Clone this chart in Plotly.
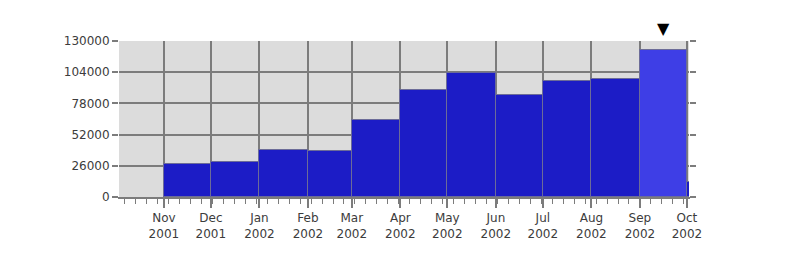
import plotly.graph_objects as go
import pandas as pd

# ---- data ----
months = ["2001-11-01", "2001-12-01", "2002-01-01", "2002-02-01", "2002-03-01",
          "2002-04-01", "2002-05-01", "2002-06-01", "2002-07-01", "2002-08-01",
          "2002-09-01", "2002-10-01"]
values = [27400, 28900, 39100, 38200, 64000, 88900, 103500, 85100, 96500, 98000,
          122800, 12500]
tick_labels = ["Nov<br>2001", "Dec<br>2001", "Jan<br>2002", "Feb<br>2002", "Mar<br>2002",
               "Apr<br>2002", "May<br>2002", "Jun<br>2002", "Jul<br>2002", "Aug<br>2002",
               "Sep<br>2002", "Oct<br>2002"]
y_ticks = [0, 26000, 52000, 78000, 104000, 130000]
highlight_month = "2002-09-01"

# ---- styling ----
BAR = "#1c1cc6"
BAR_HI = "#3e3ee6"
BG = "#dcdcdc"
GRID = "#7c7c7c"
TEXT = "#3c3c3c"
FONT = "DejaVu Sans"

starts = pd.to_datetime(months)
ends = starts + pd.offsets.MonthBegin(1)
widths = [float((e - s) / pd.Timedelta(milliseconds=1)) for s, e in zip(starts, ends)]
colors = [BAR_HI if m == highlight_month else BAR for m in months]

hi_idx = months.index(highlight_month)
hi_mid = (starts[hi_idx] + (ends[hi_idx] - starts[hi_idx]) / 2).strftime("%Y-%m-%d %H:%M")

fig = go.Figure()
fig.add_trace(go.Bar(
    x=[s.strftime("%Y-%m-%d") for s in starts], y=values, width=widths, offset=0,
    marker=dict(color=colors, line=dict(color="#6c6c98", width=1)),
    showlegend=False, hoverinfo="x+y",
))

# marker above the highlighted month
fig.add_annotation(
    x=hi_mid, xref="x", y=1, yref="paper", yanchor="bottom", yshift=1,
    text="▼", showarrow=False, font=dict(size=16, color="black", family=FONT),
)

fig.update_layout(
    width=809, height=266,
    margin=dict(l=119, r=120, t=41, b=69),
    paper_bgcolor="white", plot_bgcolor=BG,
    font=dict(family=FONT, size=12, color=TEXT),
    bargap=0,
    xaxis=dict(
        type="date",
        range=["2001-10-03 08:00", "2002-10-02 08:00"],
        tickmode="array", tickvals=[s.strftime("%Y-%m-%d") for s in starts],
        ticktext=tick_labels,
        ticks="outside", ticklen=9, tickwidth=1.5, tickcolor=GRID,
        showgrid=True, gridcolor=GRID, gridwidth=1.5,
        showline=True, linecolor=GRID, linewidth=1.5,
        minor=dict(ticks="outside", ticklen=5, tickwidth=1, tickcolor=GRID,
                   tick0="2001-10-07", dtick=7 * 86400000, showgrid=False),
        zeroline=False, fixedrange=True,
    ),
    yaxis=dict(
        range=[0, 130000], tickmode="array", tickvals=y_ticks,
        ticktext=[str(v) for v in y_ticks],
        ticks="outside", ticklen=6, tickwidth=1.5, tickcolor=GRID,
        showgrid=True, gridcolor=GRID, gridwidth=1.5,
        zeroline=False, showline=True, linecolor="rgba(0,0,0,0)",
        mirror="ticks", fixedrange=True,
    ),
)

fig.write_html("out.html")
